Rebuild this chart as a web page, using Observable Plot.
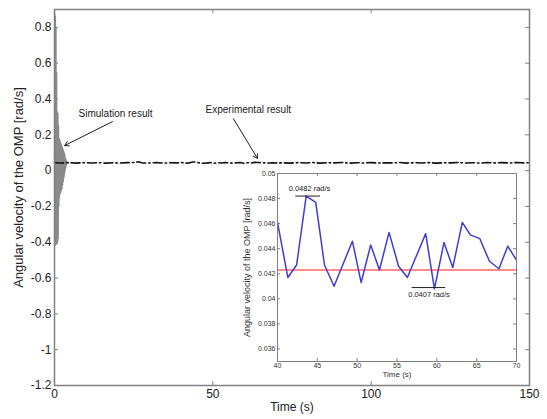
<!DOCTYPE html>
<html><head><meta charset="utf-8">
<script src="https://cdn.jsdelivr.net/npm/d3@7"></script>
<script src="https://cdn.jsdelivr.net/npm/@observablehq/plot@0.6"></script>
<style>
body{margin:0;background:#fff;}
#wrap{position:relative;width:547px;height:419px;font-family:"Liberation Sans",Arial,sans-serif;}
#main{position:absolute;left:0;top:0;}
#inset{position:absolute;left:240px;top:165px;}
</style></head><body><div id="wrap"><div id="main"></div><div id="inset"></div></div>
<script>
// ---- data ----
const xTicks = [0, 50, 100, 150];
const yTicks = [-1.2, -1, -0.8, -0.6, -0.4, -0.2, 0, 0.2, 0.4, 0.6, 0.8];
const insetXTicks = [40, 45, 50, 55, 60, 65, 70];
const insetYTicks = [0.036, 0.038, 0.04, 0.042, 0.044, 0.046, 0.048, 0.05];

// simulation result (gray), time in s
const simT = [0,0.1,0.2,0.3,0.4,0.5,0.6,0.7,0.8,0.9,1.0,1.1,1.2,1.3,1.4,1.5,1.6,1.7,1.8,1.9,2.0,2.1,2.2,2.3,2.4,2.5,2.6,2.7,2.8,2.9,3.0,3.1,3.2,3.3,3.4,3.5,3.6,3.7,3.8,3.9,4.0,4.5];
const simV = [0,0.88,-0.42,0.86,-0.41,0.80,-0.41,0.55,-0.41,0.33,-0.40,0.32,-0.38,0.25,-0.20,0.18,-0.15,0.17,-0.13,0.16,-0.12,0.15,-0.11,0.14,-0.10,0.13,-0.08,0.12,-0.06,0.11,-0.04,0.10,-0.02,0.09,0.0,0.07,0.02,0.06,0.03,0.05,0.043,0.043];

// experimental result (black dash-dot), time in s
const expT = [0,2.3,4.6,6.9,9.2,11.5,13.8,16.1,18.4,20.7,23.0,25.3,26.4,27.6,29.9,32.2,34.5,36.8,38.9,
  40.0,41.3,42.4,43.6,44.8,45.9,47.1,49.4,50.5,51.7,52.8,54.0,55.2,56.3,58.6,59.7,60.9,62.0,63.2,64.2,65.4,66.6,67.8,68.9,70.0,
  72.3,74.6,76.9,79.2,81.5,83.8,86.1,88.4,90.7,93.0,95.3,97.6,99.9,102.2,104.5,106.8,109.1,111.4,113.7,116.0,118.3,120.6,122.9,125.2,127.5,129.8,132.1,134.4,136.7,139.0,141.3,143.6,145.9,148.2,150.0];
const expV = [0.0440,0.0425,0.0452,0.0418,0.0446,0.0430,0.0449,0.0421,0.0438,0.0426,0.0447,0.0455,0.0492,0.0436,0.0424,0.0450,0.0419,0.0444,0.0432,
  0.0461,0.0417,0.0427,0.0482,0.0477,0.0427,0.0410,0.0446,0.0413,0.0443,0.0423,0.0453,0.0426,0.0417,0.0452,0.0408,0.0445,0.0425,0.0461,0.0451,0.0448,0.0430,0.0424,0.0442,0.0431,
  0.0437,0.0422,0.0449,0.0428,0.0453,0.0420,0.0441,0.0433,0.0456,0.0418,0.0445,0.0427,0.0450,0.0423,0.0439,0.0431,0.0454,0.0419,0.0446,0.0429,0.0448,0.0421,0.0442,0.0434,0.0457,0.0425,0.0444,0.0420,0.0451,0.0430,0.0447,0.0426,0.0455,0.0436,0.0441];

const meanLevel = 0.0423; // red reference line in inset

// annotations
const mainNotes = ["Simulation result", "Experimental result"];
const mainNoteX = [7.6, 47.7];
const mainNoteY = [0.32, 0.341];
const arrowFrom = [[18.3, 0.274], [56.5, 0.29]];
const arrowTo = [[3.2, 0.140], [64.1, 0.068]];

const insetNotes = ["0.0482 rad/s", "0.0407 rad/s"];
const insetNoteX = [41.4, 56.4];
const insetNoteY = [0.0488, 0.04035];
const insetLineX1 = [42.3, 56.9];
const insetLineX2 = [45.4, 61.1];
const insetLineY = [0.0482, 0.0409];

// ---- chart ----
const FONT = '"Liberation Sans", Arial, sans-serif';
const AX = "#808080";
const W = 547, H = 419;
const mM = {top: 9, right: 18, bottom: 34, left: 54};
const pw = W - mM.left - mM.right, ph = H - mM.top - mM.bottom;

const sim = simT.map((t, i) => ({t, v: simV[i]}));
const exp = expT.map((t, i) => ({t, v: expV[i]}));
const fmt1 = d => String(Math.round(d * 10) / 10);

const mainChart = Plot.plot({
  width: W, height: H,
  marginTop: mM.top, marginRight: mM.right, marginBottom: mM.bottom, marginLeft: mM.left,
  style: {fontFamily: FONT, fontSize: "12px", color: "#222", background: "transparent"},
  x: {domain: [0, 150]},
  y: {domain: [-1.2, 0.9]},
  marks: [
    Plot.tickY(yTicks, {y: d => d, insetRight: pw - 4, stroke: AX}),
    Plot.tickY(yTicks, {y: d => d, insetLeft: pw - 4, stroke: AX}),
    Plot.tickX(xTicks, {x: d => d, insetTop: ph - 4, stroke: AX}),
    Plot.tickX(xTicks, {x: d => d, insetBottom: ph - 4, stroke: AX}),
    Plot.axisY(yTicks, {tickSize: 0, tickPadding: 3, tickFormat: fmt1, label: null}),
    Plot.axisX(xTicks, {tickSize: 0, tickPadding: 4, tickFormat: d => String(d), label: null}),
    Plot.line(sim, {x: "t", y: "v", stroke: "#8a8a8a", strokeWidth: 1.2}),
    Plot.line(exp, {x: "t", y: "v", stroke: "#111", strokeWidth: 1.6, strokeDasharray: "9,3,1.5,3"}),
    Plot.arrow(arrowFrom.map((f, i) => ({x1: f[0], y1: f[1], x2: arrowTo[i][0], y2: arrowTo[i][1]})),
      {x1: "x1", y1: "y1", x2: "x2", y2: "y2", stroke: "#222", strokeWidth: 1, headLength: 7}),
    Plot.text(mainNotes, {x: (d, i) => mainNoteX[i], y: (d, i) => mainNoteY[i], text: d => d,
      textAnchor: "start", fontSize: 10, fill: "#222"}),
    Plot.frame({stroke: AX, strokeWidth: 1.5}),
    Plot.text(["Time (s)"], {frameAnchor: "bottom", dy: 25, text: d => d, fontSize: 12, fill: "#222"}),
    Plot.text(["Angular velocity of the OMP [rad/s]"], {frameAnchor: "left", dx: -36, dy: -10, rotate: -90,
      textAnchor: "middle", text: d => d, fontSize: 13, fill: "#222"})
  ]
});
document.getElementById("main").append(mainChart);

// inset
const iW = 290, iH = 220;
const iM = {top: 8, right: 14, bottom: 24, left: 37};
const ipw = iW - iM.left - iM.right, iph = iH - iM.top - iM.bottom;
const insetData = exp.filter(d => d.t >= 40 && d.t <= 70);

const insetChart = Plot.plot({
  width: iW, height: iH,
  marginTop: iM.top, marginRight: iM.right, marginBottom: iM.bottom, marginLeft: iM.left,
  style: {fontFamily: FONT, fontSize: "7px", color: "#333", background: "transparent"},
  x: {domain: [40, 70]},
  y: {domain: [0.035, 0.05]},
  marks: [
    Plot.frame({fill: "white"}),
    Plot.tickY(insetYTicks, {y: d => d, insetRight: ipw - 3, stroke: AX}),
    Plot.tickY(insetYTicks, {y: d => d, insetLeft: ipw - 3, stroke: AX}),
    Plot.tickX(insetXTicks, {x: d => d, insetTop: iph - 3, stroke: AX}),
    Plot.tickX(insetXTicks, {x: d => d, insetBottom: iph - 3, stroke: AX}),
    Plot.axisY(insetYTicks, {tickSize: 0, tickPadding: 2, tickFormat: d => String(d), label: null}),
    Plot.axisX(insetXTicks, {tickSize: 0, tickPadding: 2, tickFormat: d => String(d), label: null}),
    Plot.ruleY([meanLevel], {y: d => d, stroke: "#ff1a1a", strokeWidth: 1.2}),
    Plot.line(insetData, {x: "t", y: "v", stroke: "#3d3dd8", strokeWidth: 1.5}),
    Plot.ruleY(insetLineY, {y: d => d, x1: (d, i) => insetLineX1[i], x2: (d, i) => insetLineX2[i], stroke: "#222", strokeWidth: 1}),
    Plot.text(insetNotes, {x: (d, i) => insetNoteX[i], y: (d, i) => insetNoteY[i], text: d => d,
      textAnchor: "start", fontSize: 7.5, fill: "#222"}),
    Plot.frame({stroke: AX, strokeWidth: 1}),
    Plot.text(["Time (s)"], {frameAnchor: "bottom", dy: 15, text: d => d, fontSize: 8, fill: "#333"}),
    Plot.text(["Angular velocity of the OMP [rad/s]"], {frameAnchor: "left", dx: -30, rotate: -90,
      textAnchor: "middle", text: d => d, fontSize: 9, fill: "#333"})
  ]
});
document.getElementById("inset").append(insetChart);
</script>
</body></html>
